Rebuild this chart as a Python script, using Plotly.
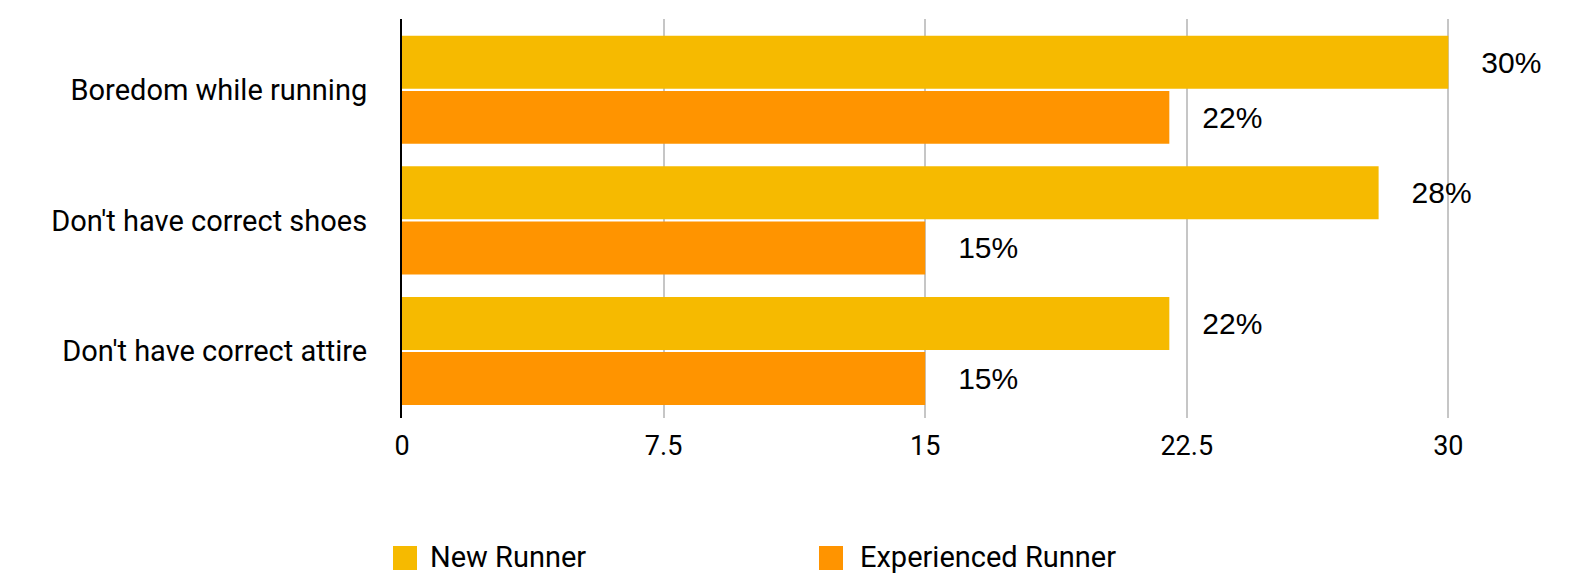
import plotly.graph_objects as go

categories = ["Boredom while running", "Don't have correct shoes", "Don't have correct attire"]
series_names = ["New Runner", "Experienced Runner"]
new_runner = [30, 28, 22]
experienced_runner = [22, 15, 15]
x_ticks = [0, 7.5, 15, 22.5, 30]
x_tick_labels = ["0", "7.5", "15", "22.5", "30"]

colors = ["#F6BA00", "#FF9400"]

W, H = 1593, 575
ML, MR, MT, MB = 402, 40, 19, 157
PW, PH = W - ML - MR, H - MT - MB

def px_x(p):
    return (p - ML) / PW

def px_y(p):
    return (H - MB - p) / PH

fig = go.Figure()
pad = "\u00a0\u00a0\u00a0\u2006"
for name, vals, col in zip(series_names, [new_runner, experienced_runner], colors):
    fig.add_trace(go.Bar(
        y=categories, x=vals, name=name, orientation="h",
        marker=dict(color=col, line=dict(width=0)),
        text=[f"{pad}{v}%" for v in vals],
        textposition="outside", constraintext="none", cliponaxis=False,
        textfont=dict(family="Liberation Sans", size=30, color="#000000"),
        showlegend=False, hoverinfo="skip",
    ))

fig.update_layout(
    width=W, height=H,
    margin=dict(l=ML, r=MR, t=MT, b=MB),
    paper_bgcolor="white", plot_bgcolor="white",
    barmode="group", bargap=0.155, bargroupgap=0.04,
    xaxis=dict(
        range=[0, 33], tickvals=x_ticks, ticktext=x_tick_labels,
        showgrid=True, gridcolor="#C6C6C6", gridwidth=2,
        zeroline=False, showline=False, ticks="",
        tickfont=dict(family="Roboto", size=27, color="#000000"),
        ticklabelstandoff=9,
    ),
    yaxis=dict(
        type="category", categoryarray=categories,
        range=[2.513, -0.542],
        showgrid=False, zeroline=False,
        showline=True, linecolor="#000000", linewidth=2,
        ticks="", ticklabelstandoff=27,
        tickfont=dict(family="Roboto", size=29, color="#000000"),
    ),
    font=dict(family="Roboto", color="#000000"),
)

# legend drawn from series names
legend_sq_x = [393, 819]
legend_tx_x = [428, 858]
for name, col, sx, tx in zip(series_names, colors, legend_sq_x, legend_tx_x):
    fig.add_shape(type="rect", xref="paper", yref="paper",
                  x0=px_x(sx), x1=px_x(sx + 24), y0=px_y(570), y1=px_y(546),
                  fillcolor=col, line=dict(width=0), layer="above")
    fig.add_annotation(xref="paper", yref="paper", x=px_x(tx), y=px_y(557),
                       text=name, showarrow=False, xanchor="left", yanchor="middle",
                       font=dict(family="Roboto", size=29, color="#000000"))

fig.write_html("out.html")
